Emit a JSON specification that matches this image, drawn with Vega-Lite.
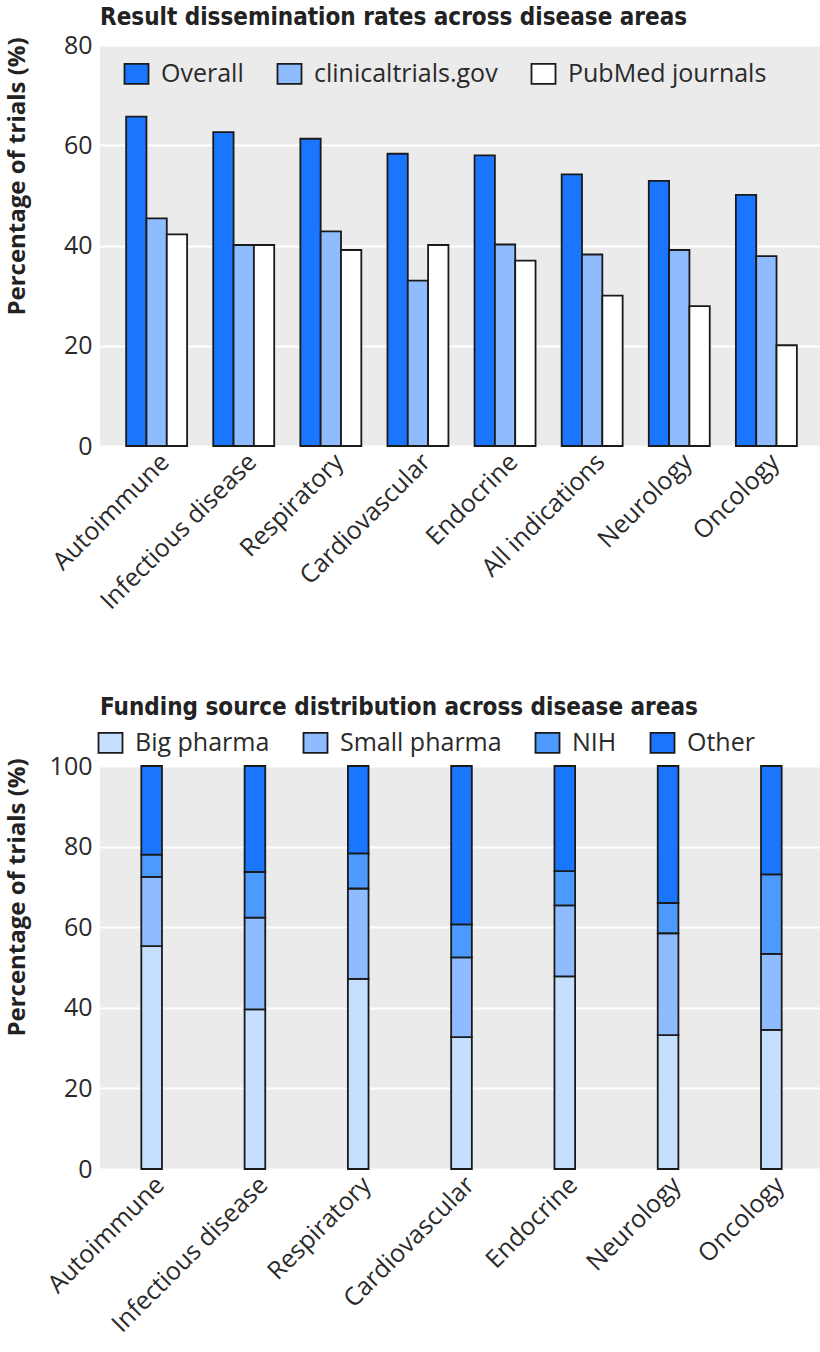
{
  "$schema": "https://vega.github.io/schema/vega-lite/v6.json",
  "padding": {"left": 4, "top": 6, "right": 0, "bottom": 4},
  "autosize": {"type": "pad"},
  "background": "white",
  "config": {
    "view": {"fill": "#ebebeb", "stroke": null},
    "font": "Open Sans",
    "axis": {
      "labelFont": "Open Sans", "labelFontSize": 25, "labelColor": "#2a2a2a", "labelLimit": 0,
      "titleFont": "Open Sans", "titleFontSize": 24, "titleFontWeight": "bold", "titleColor": "#222222",
      "domain": false, "ticks": false, "gridColor": "#ffffff", "gridWidth": 2
    },
    "axisX": {"grid": false, "labelAngle": -45, "labelAlign": "right", "labelBaseline": "top", "labelPadding": 3, "title": null},
    "axisY": {"grid": true, "labelPadding": 8, "titleAngle": -90, "titleX": -83, "titleY": 131, "titleAlign": "center", "titleBaseline": "middle"},
    "legend": {
      "symbolType": "M-1.2,-1H1.2V1H-1.2Z", "symbolSize": 400, "symbolStrokeColor": "#1a1a1a", "symbolStrokeWidth": 1.8,
      "symbolOpacity": 1, "labelFont": "Open Sans", "labelFontSize": 25, "labelColor": "#2a2a2a", "labelLimit": 400,
      "labelOffset": 12, "columnPadding": 29, "padding": 0
    },
    "title": {"font": "Liberation Sans Narrow, DejaVu Sans Condensed, sans-serif", "fontSize": 24, "fontWeight": "bold", "anchor": "start", "color": "#222222", "frame": "group"}
  },
  "resolve": {"scale": {"color": "independent"}, "legend": {"color": "independent"}},
  "bounds": "flush",
  "spacing": 320,
  "vconcat": [
    {
      "title": {"text": "Result dissemination rates across disease areas", "offset": 3},
      "width": 723,
      "height": 401,
      "data": {"values": [
        {"area": "Autoimmune", "source": "Overall", "pct": 65.7},
        {"area": "Autoimmune", "source": "clinicaltrials.gov", "pct": 45.4},
        {"area": "Autoimmune", "source": "PubMed journals", "pct": 42.2},
        {"area": "Infectious disease", "source": "Overall", "pct": 62.6},
        {"area": "Infectious disease", "source": "clinicaltrials.gov", "pct": 40.1},
        {"area": "Infectious disease", "source": "PubMed journals", "pct": 40.1},
        {"area": "Respiratory", "source": "Overall", "pct": 61.3},
        {"area": "Respiratory", "source": "clinicaltrials.gov", "pct": 42.8},
        {"area": "Respiratory", "source": "PubMed journals", "pct": 39.1},
        {"area": "Cardiovascular", "source": "Overall", "pct": 58.3},
        {"area": "Cardiovascular", "source": "clinicaltrials.gov", "pct": 33.0},
        {"area": "Cardiovascular", "source": "PubMed journals", "pct": 40.1},
        {"area": "Endocrine", "source": "Overall", "pct": 58.0},
        {"area": "Endocrine", "source": "clinicaltrials.gov", "pct": 40.2},
        {"area": "Endocrine", "source": "PubMed journals", "pct": 37.0},
        {"area": "All indications", "source": "Overall", "pct": 54.2},
        {"area": "All indications", "source": "clinicaltrials.gov", "pct": 38.2},
        {"area": "All indications", "source": "PubMed journals", "pct": 30.0},
        {"area": "Neurology", "source": "Overall", "pct": 52.9},
        {"area": "Neurology", "source": "clinicaltrials.gov", "pct": 39.1},
        {"area": "Neurology", "source": "PubMed journals", "pct": 27.9},
        {"area": "Oncology", "source": "Overall", "pct": 50.1},
        {"area": "Oncology", "source": "clinicaltrials.gov", "pct": 37.9},
        {"area": "Oncology", "source": "PubMed journals", "pct": 20.1}
      ]},
      "mark": {"type": "bar", "stroke": "#1a1a1a", "strokeWidth": 1.8},
      "encoding": {
        "x": {"field": "area", "type": "nominal",
              "sort": ["Autoimmune", "Infectious disease", "Respiratory", "Cardiovascular", "Endocrine", "All indications", "Neurology", "Oncology"],
              "scale": {"paddingInner": 0.3, "paddingOuter": 0.3}},
        "xOffset": {"field": "source", "type": "nominal",
                    "sort": ["Overall", "clinicaltrials.gov", "PubMed journals"],
                    "scale": {"paddingInner": 0, "paddingOuter": 0}},
        "y": {"field": "pct", "type": "quantitative",
              "scale": {"domain": [0, 80], "nice": false},
              "axis": {"values": [0, 20, 40, 60, 80], "title": "Percentage of trials (%)"}},
        "color": {"field": "source", "type": "nominal",
                  "scale": {"domain": ["Overall", "clinicaltrials.gov", "PubMed journals"], "range": ["#1a75ff", "#8fbcff", "#ffffff"]},
                  "legend": {"title": null, "orient": "none", "legendX": 24, "legendY": 16, "direction": "horizontal"}}
      }
    },
    {
      "title": {"text": "Funding source distribution across disease areas", "offset": 10},
      "width": 723,
      "height": 403,
      "data": {"values": [
        {"area": "Autoimmune", "source": "Big pharma", "pct": 55.3},
        {"area": "Autoimmune", "source": "Small pharma", "pct": 17.2},
        {"area": "Autoimmune", "source": "NIH", "pct": 5.5},
        {"area": "Autoimmune", "source": "Other", "pct": 22.0},
        {"area": "Infectious disease", "source": "Big pharma", "pct": 39.6},
        {"area": "Infectious disease", "source": "Small pharma", "pct": 22.8},
        {"area": "Infectious disease", "source": "NIH", "pct": 11.3},
        {"area": "Infectious disease", "source": "Other", "pct": 26.3},
        {"area": "Respiratory", "source": "Big pharma", "pct": 47.2},
        {"area": "Respiratory", "source": "Small pharma", "pct": 22.4},
        {"area": "Respiratory", "source": "NIH", "pct": 8.7},
        {"area": "Respiratory", "source": "Other", "pct": 21.7},
        {"area": "Cardiovascular", "source": "Big pharma", "pct": 32.7},
        {"area": "Cardiovascular", "source": "Small pharma", "pct": 19.8},
        {"area": "Cardiovascular", "source": "NIH", "pct": 8.2},
        {"area": "Cardiovascular", "source": "Other", "pct": 39.3},
        {"area": "Endocrine", "source": "Big pharma", "pct": 47.8},
        {"area": "Endocrine", "source": "Small pharma", "pct": 17.6},
        {"area": "Endocrine", "source": "NIH", "pct": 8.5},
        {"area": "Endocrine", "source": "Other", "pct": 26.1},
        {"area": "Neurology", "source": "Big pharma", "pct": 33.2},
        {"area": "Neurology", "source": "Small pharma", "pct": 25.3},
        {"area": "Neurology", "source": "NIH", "pct": 7.5},
        {"area": "Neurology", "source": "Other", "pct": 34.0},
        {"area": "Oncology", "source": "Big pharma", "pct": 34.5},
        {"area": "Oncology", "source": "Small pharma", "pct": 18.9},
        {"area": "Oncology", "source": "NIH", "pct": 19.7},
        {"area": "Oncology", "source": "Other", "pct": 26.9}
      ]},
      "transform": [
        {"calculate": "indexof(['Big pharma', 'Small pharma', 'NIH', 'Other'], datum.source)", "as": "stackOrder"}
      ],
      "mark": {"type": "bar", "stroke": "#1a1a1a", "strokeWidth": 1.8},
      "encoding": {
        "x": {"field": "area", "type": "nominal",
              "sort": ["Autoimmune", "Infectious disease", "Respiratory", "Cardiovascular", "Endocrine", "Neurology", "Oncology"],
              "scale": {"paddingInner": 0.8, "paddingOuter": 0.4}},
        "y": {"field": "pct", "type": "quantitative", "stack": "zero",
              "scale": {"domain": [0, 100], "nice": false},
              "axis": {"values": [0, 20, 40, 60, 80, 100], "title": "Percentage of trials (%)"}},
        "order": {"field": "stackOrder", "type": "quantitative", "sort": "ascending"},
        "color": {"field": "source", "type": "nominal",
                  "scale": {"domain": ["Big pharma", "Small pharma", "NIH", "Other"], "range": ["#c6dfff", "#8fbcff", "#4d9aff", "#1a75ff"]},
                  "legend": {"title": null, "orient": "none", "legendX": -2, "legendY": -36, "direction": "horizontal"}}
      }
    }
  ]
}
